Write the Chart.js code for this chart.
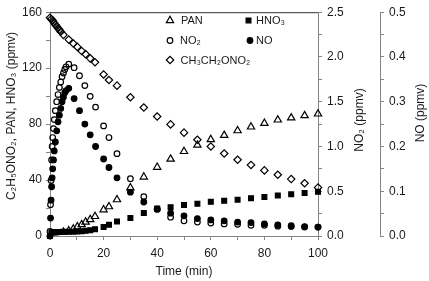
<!DOCTYPE html>
<html><head><meta charset="utf-8">
<script src="https://cdn.jsdelivr.net/npm/chart.js@4.4.1/dist/chart.umd.min.js"></script>
<style>html,body{margin:0;padding:0;background:#fff;}canvas{display:block;}</style>
</head><body>
<canvas id="c" width="429" height="281"></canvas>
<script>
// ---- data ----
const timeA = [0, 0.5, 1, 1.5, 2, 2.5, 3, 3.5, 4, 5, 7, 8.7, 10.2, 11.8, 13.3, 15, 16.8, 20, 22, 25, 30, 35, 40, 45, 50, 55, 60, 65, 70, 75, 80, 85, 90, 95, 100];
const ethylNitrate = [156, 155, 154, 152.5, 151, 150, 148.5, 147.5, 146, 143.8, 140.4, 137.6, 135.2, 132.3, 130, 127, 124.2, 115.5, 111.5, 107.5, 99.2, 91.9, 85.4, 79.8, 73.9, 68.8, 64, 59, 54.5, 50.8, 46.9, 43.8, 40.7, 37.7, 34.6];
const pan = [null, null, null, null, null, null, null, null, null, 2.8, 3.8, 5, 6.6, 8.2, 10, 11.8, 14, 18.8, 21, 26, 34.5, 42.2, 49.2, 55, 60.5, 65, 69, 72, 75.3, 78, 80.6, 83, 84.5, 86.1, 87.3];
const hno3 = [0, 2.5, 2.6, 2.6, 2.7, 2.7, 2.8, 2.8, 2.9, 3, 3, 3.1, 3.2, 3.4, 3.7, 4.1, 4.8, 6.4, 8.0, 10.3, 12.9, 16.4, 19.6, 20.6, 22.2, 23.1, 24.4, 25.2, 26, 27, 27.8, 29, 29.8, 30.7, 31.6];
const timeB = [0, 0.2, 0.4, 0.6, 0.8, 1.0, 1.3, 1.6, 2.0, 2.5, 3.0, 3.5, 4.0, 4.5, 5.0, 5.5, 6.0, 7, 9, 11, 13, 15, 17, 20, 22, 25, 30, 35, 40, 45, 50, 55, 60, 65, 70, 75, 80, 85, 90, 95, 100];
const no2 = [0.05, 0.35, 0.62, 0.85, 1.0, 1.1, 1.2, 1.3, 1.4, 1.5, 1.58, 1.66, 1.72, 1.78, 1.82, 1.86, 1.89, 1.92, 1.88, 1.79, 1.68, 1.56, 1.44, 1.23, 1.10, 0.92, 0.64, 0.44, 0.30, 0.21, 0.17, 0.155, 0.145, 0.135, 0.13, 0.12, 0.12, 0.11, 0.105, 0.1, 0.1];
const no = [0.0, 0.04, 0.08, 0.11, 0.13, 0.15, 0.17, 0.19, 0.21, 0.235, 0.255, 0.27, 0.285, 0.30, 0.31, 0.32, 0.325, 0.33, 0.307, 0.28, 0.25, 0.226, 0.20, 0.172, 0.153, 0.13, 0.098, 0.076, 0.06, 0.051, 0.045, 0.039, 0.036, 0.034, 0.031, 0.03, 0.027, 0.025, 0.023, 0.021, 0.02];

const xRange = [0, 100];
const leftRange = [0, 160];
const no2Range = [0, 2.5];
const noRange = [0, 0.5];

const seriesNames = ['CH₃CH₂ONO₂', 'PAN', 'NO₂', 'HNO₃', 'NO'];
const xTitle = 'Time (min)';
const leftTitle = 'C₂H₅ONO₂, PAN, HNO₃ (ppmv)';
const no2Title = 'NO₂ (ppmv)';
const noTitle = 'NO (ppmv)';

// ---- helpers ----
function pts(t, v) { return t.map((x, i) => ({x: x, y: v[i]})).filter(p => p.y !== null); }
const FONT = '"Liberation Sans", Arial, Helvetica, sans-serif';
const TXT = '#1a1a1a';
const AX = '#858585';
const near = (v, step) => Math.abs(v / step - Math.round(v / step)) < 1e-6;

const styles = {
  eth:  {pointStyle: 'rectRot', radius: 3.7, fill: false},
  pan:  {pointStyle: 'triangle', radius: 4.2, fill: false},
  no2:  {pointStyle: 'circle', radius: 2.8, fill: false},
  hno3: {pointStyle: 'rect', radius: 3.4, fill: true},
  no:   {pointStyle: 'circle', radius: 2.8, fill: true}
};
function ds(label, data, axis, st) {
  return {
    label: label, data: data, yAxisID: axis, showLine: false, clip: false,
    pointStyle: st.pointStyle, pointRadius: st.radius, pointHoverRadius: st.radius,
    pointBorderWidth: 1.2, pointBorderColor: '#000',
    pointBackgroundColor: st.fill ? '#000' : 'rgba(0,0,0,0)'
  };
}

const tickFont = {family: FONT, size: 12};
function axisCommon(extra) {
  return Object.assign({
    grid: {drawOnChartArea: false, drawTicks: true, tickLength: 4, color: AX, tickColor: AX, lineWidth: 1},
    border: {display: true, color: AX, width: 1}
  }, extra);
}

const decor = {
  id: 'decor',
  afterDraw(chart) {
    const ctx = chart.ctx, a = chart.chartArea;
    ctx.save();
    // top frame line
    ctx.strokeStyle = '#333'; ctx.lineWidth = 1;
    ctx.beginPath(); ctx.moveTo(a.left, a.top + 0.5); ctx.lineTo(a.right, a.top + 0.5); ctx.stroke();
    // titles
    ctx.fillStyle = TXT; ctx.textAlign = 'center'; ctx.textBaseline = 'middle';
    ctx.font = '12px ' + FONT;
    ctx.fillText(xTitle, (a.left + a.right) / 2, 272);
    const rot = (t, x, y) => { ctx.save(); ctx.translate(x, y); ctx.rotate(-Math.PI / 2); ctx.fillText(t, 0, 0); ctx.restore(); };
    rot(leftTitle, 12, 116);
    rot(no2Title, 360, 120);
    rot(noTitle, 421, 113);
    // legend
    const items = [
      [styles.pan, 170, 20.5, seriesNames[1], 181],
      [styles.hno3, 248.5, 20.5, seriesNames[3], 256],
      [styles.no2, 170, 40.5, seriesNames[2], 180],
      [styles.no, 250, 40.5, seriesNames[4], 256],
      [styles.eth, 170, 60, seriesNames[0], 180.5]
    ];
    ctx.font = '11px ' + FONT; ctx.textAlign = 'left';
    items.forEach(([st, x, y, label, tx]) => {
      ctx.save();
      ctx.strokeStyle = '#000'; ctx.lineWidth = 1.2;
      ctx.fillStyle = st.fill ? '#000' : 'rgba(0,0,0,0)';
      Chart.helpers.drawPoint(ctx, {pointStyle: st.pointStyle, radius: st.radius, rotation: 0, borderWidth: 1.2}, x, y);
      ctx.restore();
      ctx.fillStyle = TXT;
      ctx.fillText(label, tx, y + 0.5);
    });
    ctx.restore();
  }
};

new Chart(document.getElementById('c'), {
  type: 'scatter',
  data: {
    datasets: [
      ds(seriesNames[0], pts(timeA, ethylNitrate), 'y', styles.eth),
      ds(seriesNames[1], pts(timeA, pan), 'y', styles.pan),
      ds(seriesNames[2], pts(timeB, no2), 'y2', styles.no2),
      ds(seriesNames[3], pts(timeA, hno3), 'y', styles.hno3),
      ds(seriesNames[4], pts(timeB, no), 'y3', styles.no)
    ]
  },
  options: {
    responsive: false, animation: false, devicePixelRatio: 1,
    layout: {padding: {top: 5, left: 0, right: 0, bottom: 0}},
    plugins: {legend: {display: false}, tooltip: {enabled: false}},
    scales: {
      x: axisCommon({
        type: 'linear', position: 'bottom', min: xRange[0], max: xRange[1],
        ticks: {stepSize: 10, autoSkip: false, maxRotation: 0, padding: 6, color: TXT, font: tickFont,
          callback: v => near(v, 20) ? String(Math.round(v)) : ''},
        afterFit: s => { s.height = 45; }
      }),
      y: axisCommon({
        type: 'linear', position: 'left', min: leftRange[0], max: leftRange[1],
        ticks: {stepSize: 20, autoSkip: false, padding: 4, color: TXT, font: tickFont,
          callback: v => near(v, 40) ? String(Math.round(v)) : ''},
        afterFit: s => { s.width = 50; }
      }),
      y2: axisCommon({
        type: 'linear', position: 'right', weight: 0, min: no2Range[0], max: no2Range[1],
        ticks: {stepSize: 0.25, autoSkip: false, padding: 5, color: TXT, font: tickFont,
          callback: v => near(v, 0.5) ? v.toFixed(1) : ''},
        afterFit: s => { s.width = 62; }
      }),
      y3: axisCommon({
        type: 'linear', position: 'right', weight: 1, min: noRange[0], max: noRange[1],
        ticks: {stepSize: 0.05, autoSkip: false, padding: 5, color: TXT, font: tickFont,
          callback: v => near(v, 0.1) ? v.toFixed(1) : ''},
        afterFit: s => { s.width = 49; }
      })
    }
  },
  plugins: [decor]
});
</script>
</body></html>
